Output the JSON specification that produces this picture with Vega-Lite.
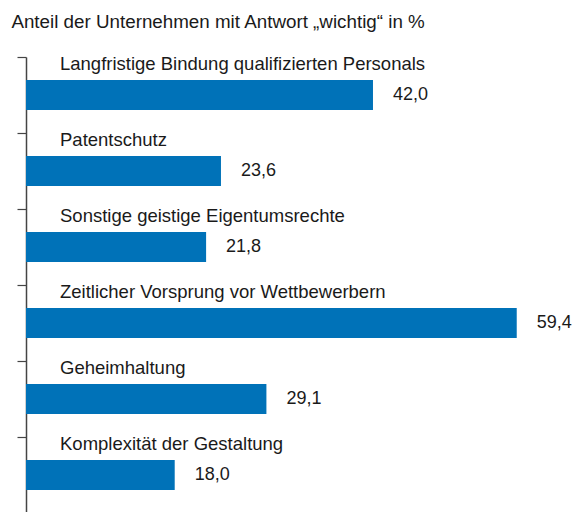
{
  "$schema": "https://vega.github.io/schema/vega-lite/v6.json",
  "autosize": "none",
  "width": 537,
  "height": 456,
  "padding": {"left": 26, "top": 57, "right": 15, "bottom": 0},
  "background": "white",
  "title": {
    "text": "Anteil der Unternehmen mit Antwort „wichtig“ in %",
    "anchor": "start",
    "frame": "bounds",
    "dx": -5,
    "offset": 23,
    "font": "Liberation Sans",
    "fontSize": 18.8,
    "fontWeight": "normal",
    "color": "#1a1a1a"
  },
  "config": {
    "view": {"stroke": null},
    "locale": {"number": {"decimal": ",", "thousands": ".", "grouping": [3], "currency": ["", " €"]}},
    "text": {"font": "Liberation Sans", "fontSize": 18.5, "color": "#1a1a1a"}
  },
  "data": {
    "values": [
      {"kategorie": "Langfristige Bindung qualifizierten Personals", "wert": 42.0},
      {"kategorie": "Patentschutz", "wert": 23.6},
      {"kategorie": "Sonstige geistige Eigentumsrechte", "wert": 21.8},
      {"kategorie": "Zeitlicher Vorsprung vor Wettbewerbern", "wert": 59.4},
      {"kategorie": "Geheimhaltung", "wert": 29.1},
      {"kategorie": "Komplexität der Gestaltung", "wert": 18.0}
    ]
  },
  "encoding": {
    "y": {
      "field": "kategorie",
      "type": "nominal",
      "sort": null,
      "scale": {"paddingInner": 0, "paddingOuter": 0},
      "axis": {
        "title": null,
        "labels": false,
        "bandPosition": 0,
        "tickSize": 9,
        "tickColor": "#444",
        "tickWidth": 1.2,
        "domainColor": "#444",
        "domainWidth": 1.5
      }
    }
  },
  "layer": [
    {
      "mark": {"type": "bar", "height": 30, "color": "#0072B8"},
      "encoding": {
        "x": {"field": "wert", "type": "quantitative", "scale": {"domain": [0, 65]}, "axis": null}
      }
    },
    {
      "mark": {"type": "text", "align": "left", "baseline": "middle", "dx": 20, "fontSize": 18},
      "encoding": {
        "x": {"field": "wert", "type": "quantitative"},
        "text": {"field": "wert", "type": "quantitative", "format": ".1f"}
      }
    },
    {
      "mark": {"type": "text", "align": "left", "baseline": "alphabetic", "dx": 34, "dy": -25},
      "encoding": {
        "x": {"datum": 0, "type": "quantitative"},
        "text": {"field": "kategorie", "type": "nominal"}
      }
    }
  ]
}
